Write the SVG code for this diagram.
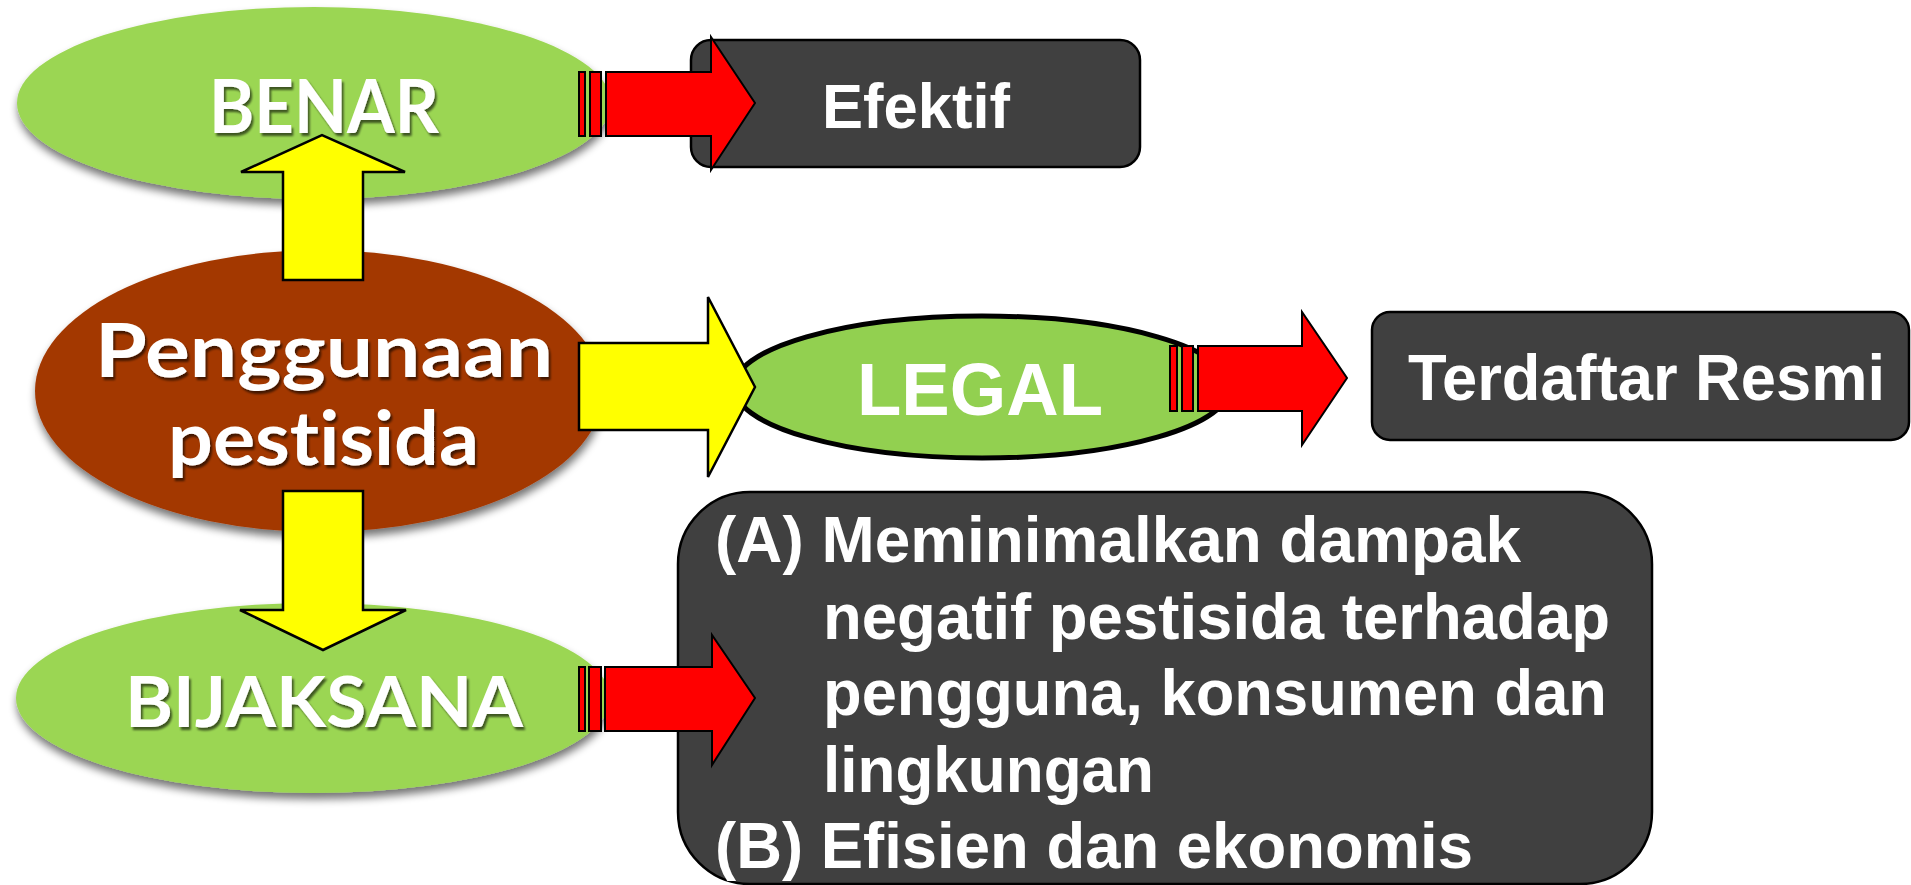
<svg xmlns="http://www.w3.org/2000/svg" width="1911" height="885" viewBox="0 0 1911 885">
<defs>
<style>
.g{font-family:"Lato","Open Sans","DejaVu Sans",sans-serif;font-weight:bold;fill:#fff;font-variant-ligatures:none;font-feature-settings:"liga" 0,"clig" 0;}
.a{font-family:"Liberation Sans",Arial,sans-serif;font-weight:bold;fill:#fff;}
.box{fill:#404040;stroke:#000;stroke-width:2.5;}
.red{fill:#ff0000;stroke:#000;stroke-width:2;stroke-linejoin:miter;}
.yel{fill:#ffff00;stroke:#000;stroke-width:2.5;stroke-linejoin:miter;}
.green{fill:#9bd653;}
</style>
<filter id="sh" x="-10%" y="-10%" width="120%" height="130%">
<feGaussianBlur in="SourceAlpha" stdDeviation="4"/>
<feOffset dx="1" dy="6" result="b"/>
<feComponentTransfer><feFuncA type="linear" slope="0.55"/></feComponentTransfer>
<feMerge><feMergeNode/><feMergeNode in="SourceGraphic"/></feMerge>
</filter>
<filter id="tsh" x="-5%" y="-5%" width="115%" height="125%">
<feOffset in="SourceAlpha" dx="2" dy="3" result="o"/>
<feGaussianBlur in="o" stdDeviation="1"/>
<feComponentTransfer><feFuncA type="linear" slope="0.6"/></feComponentTransfer>
<feMerge><feMergeNode/><feMergeNode in="SourceGraphic"/></feMerge>
</filter>
</defs>
<rect width="1911" height="885" fill="#fff"/>

<g id="node-benar">
<ellipse class="green" cx="314" cy="103" rx="297" ry="96" filter="url(#sh)"/>
<text class="g" x="209" y="133" font-size="74" textLength="230" lengthAdjust="spacingAndGlyphs" filter="url(#tsh)">BENAR</text>
</g>

<g id="node-penggunaan">
<ellipse cx="319" cy="391" rx="284" ry="141" fill="#a33800" filter="url(#sh)"/>
<text class="g" x="95" y="377" font-size="75" textLength="458" lengthAdjust="spacingAndGlyphs" filter="url(#tsh)">Penggunaan</text>
<text class="g" x="168" y="465" font-size="75" textLength="311" lengthAdjust="spacingAndGlyphs" filter="url(#tsh)">pestisida</text>
</g>

<g id="node-bijaksana">
<ellipse class="green" cx="313" cy="698" rx="297" ry="95" filter="url(#sh)"/>
<text class="g" x="125" y="727" font-size="70" textLength="398" lengthAdjust="spacingAndGlyphs" filter="url(#tsh)">BIJAKSANA</text>
</g>

<g id="node-legal">
<ellipse cx="982" cy="387" rx="248" ry="71" fill="#92d050" stroke="#000" stroke-width="5"/>
<text class="a" x="857" y="415" font-size="75" textLength="246" lengthAdjust="spacingAndGlyphs">LEGAL</text>
</g>

<g id="node-efektif">
<rect class="box" x="691" y="40" width="449" height="127" rx="20"/>
<text class="a" x="822" y="128" font-size="63" textLength="188" lengthAdjust="spacingAndGlyphs">Efektif</text>
</g>

<g id="node-terdaftar">
<rect class="box" x="1372" y="312" width="537" height="128" rx="18"/>
<text class="a" x="1408" y="400" font-size="65" textLength="477" lengthAdjust="spacingAndGlyphs">Terdaftar Resmi</text>
</g>

<g id="node-bijak-detail">
<rect class="box" x="678" y="492" width="974" height="392" rx="72"/>
<text class="a" font-size="64">
<tspan x="715" y="562" textLength="806" lengthAdjust="spacingAndGlyphs">(A) Meminimalkan dampak</tspan>
<tspan x="823" y="639" textLength="787" lengthAdjust="spacingAndGlyphs">negatif pestisida terhadap</tspan>
<tspan x="823" y="715" textLength="784" lengthAdjust="spacingAndGlyphs">pengguna, konsumen dan</tspan>
<tspan x="823" y="792" textLength="331" lengthAdjust="spacingAndGlyphs">lingkungan</tspan>
<tspan x="715" y="868" textLength="758" lengthAdjust="spacingAndGlyphs">(B) Efisien dan ekonomis</tspan>
</text>
</g>

<g id="connectors">
<polygon class="yel" points="283,280 283,172 241,172 322,135 405,172 363,172 363,280"/>
<polygon class="yel" points="283,491 363,491 363,610 406,610 323,650 240,610 283,610"/>
<polygon class="yel" points="579,343 708,343 708,297 755,387 708,477 708,430 579,430"/>

<rect class="red" x="579" y="72" width="6" height="64"/>
<rect class="red" x="590" y="72" width="11" height="64"/>
<polygon class="red" points="606,72 711,72 711,37 755,103 711,170 711,136 606,136"/>

<rect class="red" x="1170" y="346" width="7" height="65"/>
<rect class="red" x="1182" y="346" width="11" height="65"/>
<polygon class="red" points="1198,346 1302,346 1302,312 1347,378 1302,445 1302,411 1198,411"/>

<rect class="red" x="579" y="667" width="6" height="64"/>
<rect class="red" x="589" y="667" width="12" height="64"/>
<polygon class="red" points="605,667 712,667 712,635 755,698 712,765 712,731 605,731"/>
</g>
</svg>
